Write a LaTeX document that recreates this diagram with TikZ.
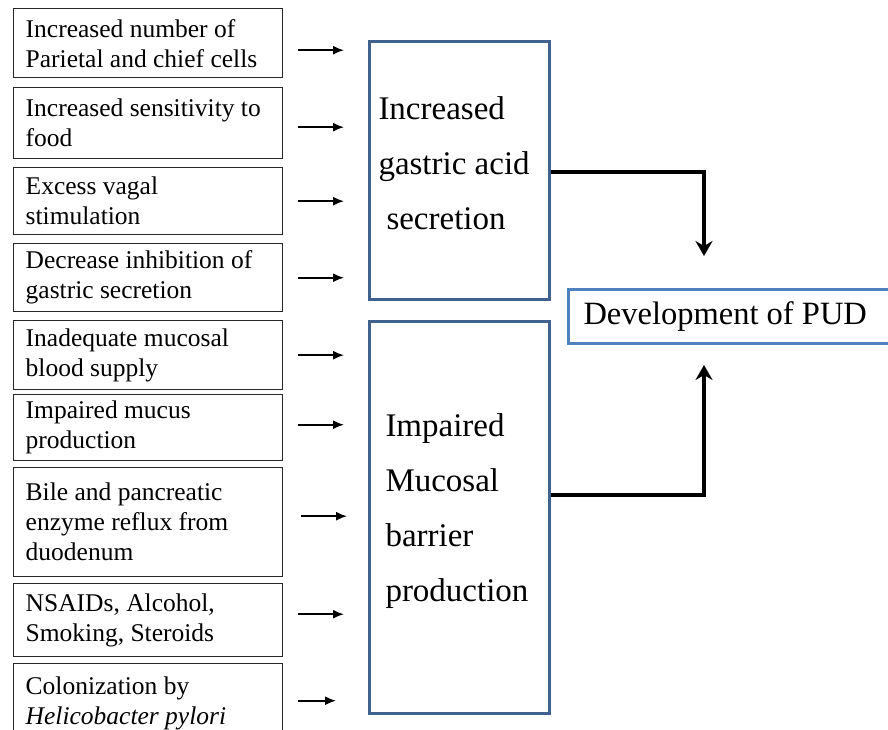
\documentclass[tikz,border=0pt]{standalone}
\usepackage{fontspec}
\setmainfont{Liberation Serif}
\usepackage{tikz}
\usetikzlibrary{arrows.meta,calc}
\definecolor{boxblue}{HTML}{41628F}
\definecolor{pudblue}{HTML}{4F81BD}

\begin{document}
\begin{tikzpicture}[x=1pt, y=-1pt,
		cause/.style={draw=black!85, line width=1.4pt, anchor=north west,
			minimum width=269pt, text width=245pt, inner xsep=12pt, align=flush left,
			font=\fontsize{25.5}{30}\selectfont},
		effect/.style={draw=boxblue, line width=3pt, anchor=north west,
			minimum width=180pt, align=flush left, font=\fontsize{33}{55}\selectfont},
		feed/.style={-{Latex[length=11pt,width=9pt]}, line width=1.6pt,
			shorten <=15pt, shorten >=24pt},
		elbow/.style={-{Stealth[length=15pt,width=17pt,inset=5pt]}, line width=4pt}]
		\useasboundingbox (0,0) rectangle (888,730);
		
		% left column: causes
		\node[cause, minimum height=69pt] (c1) at (13,8) {Increased number of\\Parietal and chief cells};
		\node[cause, minimum height=71pt] (c2) at (13,87) {Increased sensitivity to\\food};
		\node[cause, minimum height=67pt] (c3) at (13,167) {Excess vagal\\stimulation};
		\node[cause, minimum height=68pt] (c4) at (13,243) {Decrease inhibition of\\gastric secretion};
		\node[cause, minimum height=69pt] (c5) at (13,320) {Inadequate mucosal\\blood supply};
		\node[cause, minimum height=66pt] (c6) at (13,394) {Impaired mucus\\production};
		\node[cause, minimum height=109pt] (c7) at (13,467) {Bile and pancreatic\\enzyme reflux from\\duodenum};
		\node[cause, minimum height=73pt] (c8) at (13,583) {NSAIDs, Alcohol,\\Smoking, Steroids};
		\node[cause, minimum height=80pt] (c9) at (13,663) {Colonization by\\\textit{Helicobacter pylori}};
		
		% middle column
		\node[effect, minimum height=258pt, text width=162pt, inner xsep=9pt, text depth=124pt] (acid) at (368,40)
			{Increased\\gastric acid\\\hspace*{8pt}secretion};
		\node[effect, minimum height=392pt, text width=148pt, inner xsep=16pt, text depth=184pt] (impaired) at (368,320)
			{Impaired\\Mucosal\\barrier\\production};
		
		% outcome
		\node[draw=pudblue, line width=3pt, anchor=north west, minimum width=340pt,
			minimum height=54pt, text width=310pt, inner xsep=15pt, align=flush left,
			font=\fontsize{32.5}{40}\selectfont] (pud) at (567,288) {Development of PUD};
		
		% small arrows
		\draw[feed] ([yshift=-7pt]c1.east) -- ([yshift=-7pt]c1.east -| acid.west);
		\draw[feed] ([yshift=-4pt]c2.east) -- ([yshift=-4pt]c2.east -| acid.west);
		\draw[feed] (c3.east) -- (c3.east -| acid.west);
		\draw[feed] (c4.east) -- (c4.east -| acid.west);
		\draw[feed] (c5.east) -- (c5.east -| impaired.west);
		\draw[feed] ([yshift=3pt]c6.east) -- ([yshift=3pt]c6.east -| impaired.west);
		\draw[feed, shorten <=18pt, shorten >=21pt] ([yshift=6pt]c7.east) -- ([yshift=6pt]c7.east -| impaired.west);
		\draw[feed] ([yshift=6pt]c8.east) -- ([yshift=6pt]c8.east -| impaired.west);
		\draw[feed, shorten >=32pt] ([yshift=3pt]c9.east) -- ([yshift=3pt]c9.east -| impaired.west);
		
		% elbow connectors to PUD
		\coordinate (dn) at (704,256);
		\coordinate (up) at (704,365);
		\draw[elbow] ([yshift=-2pt]acid.east) -| (dn);
		\draw[elbow] ([yshift=23pt]impaired.east) -| (up);
	\end{tikzpicture}
\end{document}
